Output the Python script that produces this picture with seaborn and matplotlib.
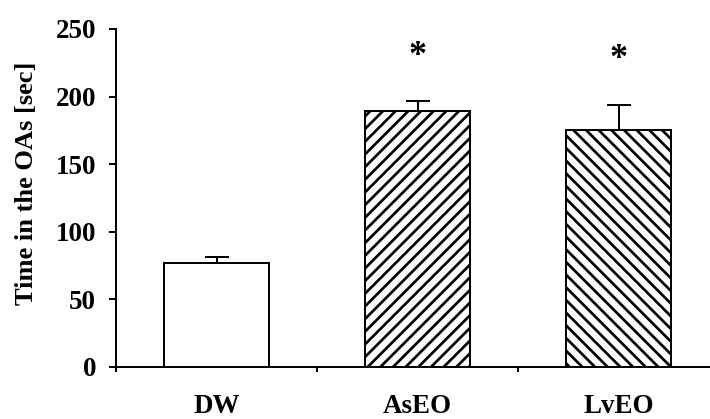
import numpy as np
import pandas as pd
import matplotlib
matplotlib.use("Agg")
import matplotlib.pyplot as plt
import seaborn as sns

# Data: mean time spent in the open arms (sec) with SEM
groups = ["DW", "AsEO", "LvEO"]
means = [77, 189, 175]
sem = [4, 7.5, 19]
hatches = ["", "//", "\\\\"]
signif = ["", "*", "*"]

DPI = 76
PX = 72 / DPI  # points per pixel

sns.set_theme(style="ticks")
plt.rcParams["font.family"] = ["Liberation Serif", "DejaVu Serif"]
plt.rcParams["font.weight"] = "bold"
plt.rcParams["hatch.linewidth"] = 2.7 * PX
plt.rcParams["hatch.color"] = "black"

fig = plt.figure(figsize=(710 / DPI, 419 / DPI), dpi=DPI)
ax = fig.add_axes([116 / 710, 1 - 367 / 419, 1 - 116 / 710, (367 - 29) / 419])

df = pd.DataFrame({"group": groups, "time": means})
sns.barplot(data=df, x="group", y="time", order=groups, color="white",
            saturation=1, edgecolor="black", linewidth=2 * PX, width=0.525,
            errorbar=None, ax=ax)

for patch, h in zip(ax.patches, hatches):
    patch.set_facecolor("white")
    patch.set_hatch(h)

xpos = np.arange(len(groups))
ax.errorbar(xpos, means, yerr=[np.zeros(len(sem)), sem], fmt="none",
            ecolor="black", elinewidth=2 * PX, capsize=12 * PX,
            capthick=2 * PX, zorder=1)

for x, m, e, s in zip(xpos, means, sem, signif):
    if s:
        ax.text(x, m + e + 27, s, ha="center", va="baseline",
                fontsize=36 * PX, fontweight="bold", color="black")

ax.set_ylim(0, 250)
ax.set_yticks([0, 50, 100, 150, 200, 250])
ax.set_xlim(-0.5, 2.455)
ax.set_xticks([-0.5, 0.5, 1.5])
ax.set_xticklabels([])
ax.set_xticks(xpos, minor=True)
ax.set_xticklabels(groups, minor=True)
ax.tick_params(axis="x", which="minor", length=0, pad=27 * PX,
               labelsize=27 * PX)
ax.tick_params(axis="x", which="major", length=5 * PX, width=2 * PX,
               direction="out", color="black")
ax.tick_params(axis="y", length=7 * PX, width=2 * PX, pad=13 * PX,
               labelsize=27 * PX, color="black", labelcolor="black")
for lab in ax.get_xticklabels(minor=True) + ax.get_yticklabels():
    lab.set_fontweight("bold")
    lab.set_color("black")

ax.set_xlabel("")
ax.set_ylabel("")
fig.text(27 / 710, 1 - 183 / 419, "Time in the OAs [sec]", rotation=90,
         ha="center", va="center", fontsize=26.5 * PX, fontweight="bold",
         color="black")

for side in ["top", "right"]:
    ax.spines[side].set_visible(False)
for side in ["left", "bottom"]:
    ax.spines[side].set_linewidth(2 * PX)
    ax.spines[side].set_color("black")
ax.patch.set_alpha(0)

fig.savefig("out.png", dpi=DPI, facecolor="white")
